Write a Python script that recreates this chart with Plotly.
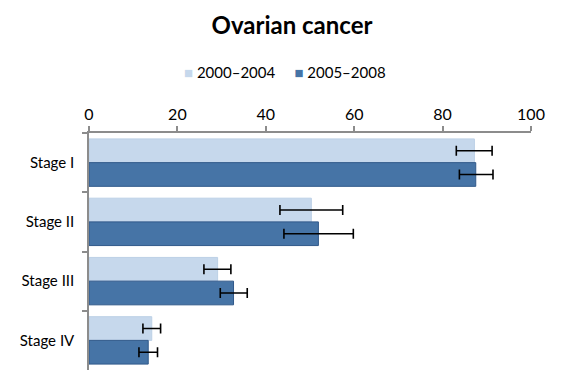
import plotly.graph_objects as go

categories = ["Stage I", "Stage II", "Stage III", "Stage IV"]
series_names = ["2000–2004", "2005–2008"]
values_2000_2004 = [87.2, 50.3, 29.1, 14.2]
lower_2000_2004 = [83.1, 43.2, 26.0, 12.2]
upper_2000_2004 = [91.2, 57.4, 32.1, 16.2]
values_2005_2008 = [87.5, 51.9, 32.7, 13.4]
lower_2005_2008 = [83.8, 44.1, 29.7, 11.3]
upper_2005_2008 = [91.4, 59.8, 35.8, 15.5]
x_ticks = [0, 20, 40, 60, 80, 100]

FONT = "Lato, Carlito, Calibri, 'Open Sans', sans-serif"
colors = [("#c6d8ec", "#bcd0e6"), ("#4674a6", "#30598a")]

fig = go.Figure()
for name, vals, lo, hi, (fill, line) in [
    (series_names[0], values_2000_2004, lower_2000_2004, upper_2000_2004, colors[0]),
    (series_names[1], values_2005_2008, lower_2005_2008, upper_2005_2008, colors[1]),
]:
    fig.add_trace(go.Bar(
        name=name, y=categories, x=vals, orientation="h", showlegend=False,
        marker=dict(color=fill, line=dict(color=line, width=1)),
        error_x=dict(type="data", symmetric=False,
                     array=[h - v for h, v in zip(hi, vals)],
                     arrayminus=[v - l for v, l in zip(vals, lo)],
                     color="black", thickness=1.6, width=5),
    ))

# compact legend drawn as a text line with coloured square glyphs
legend_text = "&nbsp;&nbsp;&nbsp;&nbsp;&nbsp;".join(
    f"<span style='color:{fill}; font-size:15px'>■</span>&nbsp;{name}"
    for name, (fill, _) in zip(series_names, colors)
)

fig.update_layout(
    width=568, height=381,
    margin=dict(l=81, r=45, t=125, b=19),
    paper_bgcolor="white", plot_bgcolor="white",
    barmode="group", bargap=0.2, bargroupgap=0.0,
    font=dict(family=FONT, size=15, color="black"),
    title=dict(text="<b>Ovarian cancer</b>", x=0.5, xanchor="center",
               y=0.955, yanchor="middle", font=dict(size=24, family=FONT)),
    showlegend=False,
    annotations=[dict(text=legend_text, xref="paper", yref="paper",
                      x=0.443, y=1.258, xanchor="center", yanchor="middle",
                      showarrow=False, font=dict(size=15, family=FONT))],
)
fig.update_xaxes(range=[0, 100], tickvals=x_ticks, side="top", showgrid=False,
                 showline=True, linecolor="#8c8c8c", linewidth=1.5,
                 ticks="outside", ticklen=5, tickcolor="#8c8c8c", tickwidth=1.5,
                 zeroline=False, tickfont=dict(size=16))
fig.update_yaxes(autorange="reversed", showgrid=False, showline=True,
                 linecolor="#8c8c8c", linewidth=1.5, ticks="outside",
                 tickson="boundaries", ticklen=5, tickcolor="#8c8c8c", tickwidth=1.5,
                 tickfont=dict(size=15), ticklabelstandoff=10)

fig.write_html("out.html")
